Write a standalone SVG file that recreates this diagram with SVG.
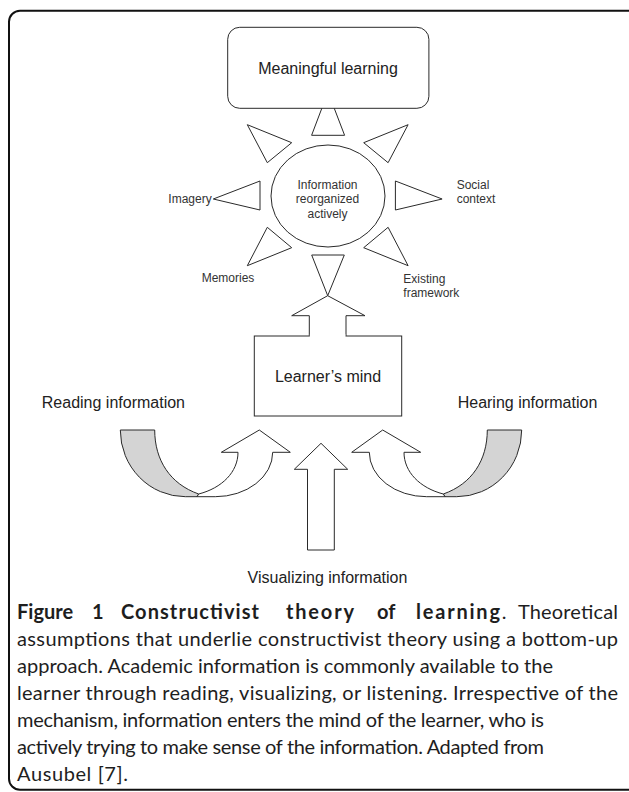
<svg xmlns="http://www.w3.org/2000/svg" xmlns:xlink="http://www.w3.org/1999/xlink" width="629" height="792" viewBox="0 0 629 792">
  <style>
    .ln { fill: #ffffff; stroke: #2a2a2a; stroke-width: 1; stroke-linejoin: miter; }
    .gray { fill: #d4d4d4; stroke: #2a2a2a; stroke-width: 1; }
    .lbl { font-family: "Liberation Sans", Arial, sans-serif; font-size: 12px; fill: #333333; }
    .big { font-family: "Liberation Sans", Arial, sans-serif; font-size: 16px; fill: #222222; }
    .cap { font-family: Lato, "Open Sans", sans-serif; font-size: 20px; fill: #1e1e1e; }
    .capb { font-weight: bold; }
  </style>
  <defs>
    <!-- twisted U-shaped ribbon arrow (right-hand version) -->
    <g id="uturn">
      <path class="gray" d="M487.3,430 L521.7,430 A65,66.7 0 0 1 456.7,496.7 L445,496.7 L443.3,494 C472,484 487.3,460 487.3,430 Z"/>
      <path class="ln" d="M369.3,452.3 L351.7,452.3 L382.7,430 L420.7,452.3 L404,452.3 C404,472 420,488 443.3,494 L445,496.7 L426.7,496.7 A57.4,44.4 0 0 1 369.3,452.3 Z"/>
    </g>
  </defs>

  <rect x="0" y="0" width="629" height="792" fill="#ffffff"/>
  <!-- outer figure frame -->
  <rect x="9" y="10.7" width="640" height="779" rx="11" fill="none" stroke="#111111" stroke-width="2"/>

  <g id="connectors">
    <!-- wedges around the central node -->
    <polygon class="ln" points="311.6,135.3 344.6,135.3 328,92"/>
    <polygon class="ln" points="247.3,124.7 291.7,142.7 267.3,162.7"/>
    <polygon class="ln" points="408.1,124.7 363.7,142.7 388.1,162.7"/>
    <polygon class="ln" points="213.3,199 260,181 260,210"/>
    <polygon class="ln" points="442.1,199 395.4,181 395.4,210"/>
    <polygon class="ln" points="267.3,227.3 291.7,247.7 247.3,265.7"/>
    <polygon class="ln" points="388.1,227.3 363.7,247.7 408.1,265.7"/>
    <polygon class="ln" points="311.7,255 344.3,255 327.7,295.7"/>
    <!-- block arrow from mind box upward -->
    <path d="M309.3,337.5 L309.3,315.7 L291.7,315.7 L327.7,295.7 L365,315.7 L346,315.7 L346,337.5 Z" fill="#ffffff" stroke="none"/>
    <path d="M309.3,336 L309.3,315.7 L291.7,315.7 L327.7,295.7 L365,315.7 L346,315.7 L346,336" fill="none" stroke="#2a2a2a" stroke-width="1"/>
    <!-- input arrows -->
    <use xlink:href="#uturn"/>
    <use xlink:href="#uturn" transform="translate(642,0) scale(-1,1)"/>
    <path class="ln" d="M307.5,550 L307.5,469.3 L294.3,469.3 L321,443.3 L347.7,469.3 L334.3,469.3 L334.3,550 Z"/>
  </g>

  <g id="meaningful-learning">
    <rect class="ln" x="227.7" y="27.3" width="201.2" height="81" rx="12"/>
    <text class="big" x="328" y="74" text-anchor="middle">Meaningful learning</text>
  </g>

  <g id="information-reorganized">
    <ellipse class="ln" cx="328" cy="196" rx="57" ry="51"/>
    <text class="lbl" x="327.5" y="188.5" text-anchor="middle">Information</text>
    <text class="lbl" x="327.5" y="203" text-anchor="middle">reorganized</text>
    <text class="lbl" x="327.5" y="217.5" text-anchor="middle">actively</text>
  </g>

  <g id="imagery"><text class="lbl" x="211.7" y="203" text-anchor="end">Imagery</text></g>
  <g id="social-context">
    <text class="lbl" x="456.7" y="188.6">Social</text>
    <text class="lbl" x="456.7" y="203.3">context</text>
  </g>
  <g id="memories"><text class="lbl" x="201.7" y="282">Memories</text></g>
  <g id="existing-framework">
    <text class="lbl" x="403.3" y="282.5">Existing</text>
    <text class="lbl" x="403.3" y="296.5">framework</text>
  </g>

  <g id="learners-mind">
    <rect class="ln" x="254.3" y="336" width="147.4" height="80" fill="none"/>
    <rect x="309.8" y="334.5" width="35.7" height="3" fill="#ffffff"/>
    <text class="big" x="328" y="382" text-anchor="middle">Learner’s mind</text>
  </g>

  <g id="reading"><text class="big" x="185" y="407.7" text-anchor="end">Reading information</text></g>
  <g id="hearing"><text class="big" x="457.7" y="407.7">Hearing information</text></g>
  <g id="visualizing"><text class="big" x="327.5" y="582.5" text-anchor="middle">Visualizing information</text></g>

  <g id="caption" class="cap">
    <text y="619"><tspan class="capb" x="17">Figure</tspan><tspan class="capb" x="92">1</tspan><tspan class="capb" x="121" textLength="138" lengthAdjust="spacing">Constructivist</tspan><tspan class="capb" x="286" textLength="68" lengthAdjust="spacing">theory</tspan><tspan class="capb" x="377">of</tspan><tspan class="capb" x="416" textLength="84" lengthAdjust="spacing">learning</tspan><tspan>.</tspan><tspan x="518" textLength="100" lengthAdjust="spacing">Theoretical</tspan></text>
    <text x="17" y="646" textLength="601" lengthAdjust="spacing">assumptions that underlie constructivist theory using a bottom-up</text>
    <text x="17" y="673" textLength="536" lengthAdjust="spacing">approach. Academic information is commonly available to the</text>
    <text x="17" y="700" textLength="601" lengthAdjust="spacing">learner through reading, visualizing, or listening. Irrespective of the</text>
    <text x="17" y="727" textLength="527" lengthAdjust="spacing">mechanism, information enters the mind of the learner, who is</text>
    <text x="17" y="754" textLength="527" lengthAdjust="spacing">actively trying to make sense of the information. Adapted from</text>
    <text x="17" y="781" textLength="111" lengthAdjust="spacing">Ausubel [7].</text>
  </g>
</svg>
